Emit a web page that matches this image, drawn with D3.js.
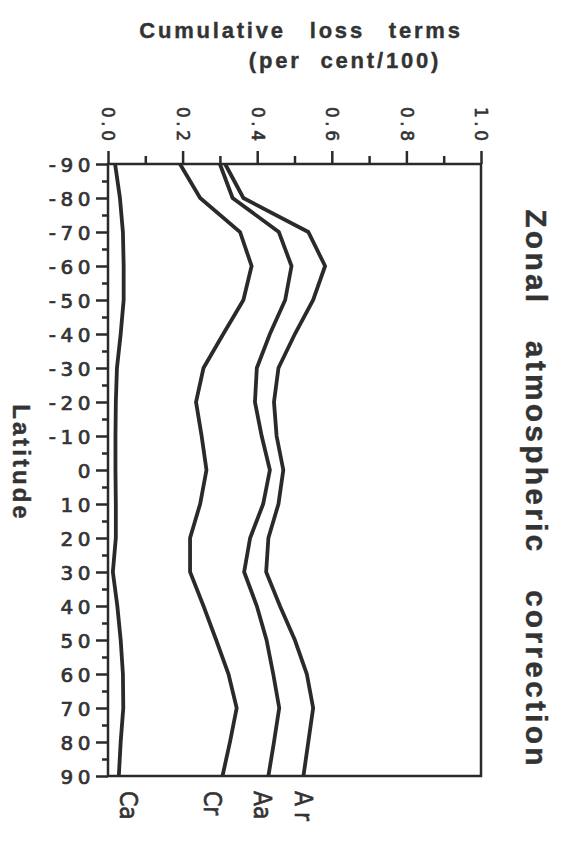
<!DOCTYPE html>
<html>
<head>
<meta charset="utf-8">
<script src="https://cdn.jsdelivr.net/npm/d3@7"></script>
<style>
  html, body { margin: 0; padding: 0; background: #fff; }
  svg { display: block; }
</style>
</head>
<body>
<svg id="chart" width="565" height="843"></svg>
<script>
// Zonal means of the cumulative loss terms, sampled every 10 degrees of latitude
const latitudes = [-90, -80, -70, -60, -50, -40, -30, -20, -10, 0, 10, 20, 30, 40, 50, 60, 70, 80, 90];
const seriesNames = ["Ca", "Cr", "Aa", "Ar"];
const caValues = [0.019, 0.032, 0.040, 0.042, 0.042, 0.034, 0.024, 0.021, 0.020, 0.020, 0.021, 0.021, 0.013, 0.025, 0.034, 0.040, 0.041, 0.034, 0.029];
const crValues = [0.193, 0.247, 0.354, 0.385, 0.363, 0.309, 0.256, 0.236, 0.251, 0.264, 0.247, 0.220, 0.220, 0.256, 0.290, 0.323, 0.345, 0.327, 0.307];
const aaValues = [0.300, 0.334, 0.458, 0.492, 0.475, 0.434, 0.399, 0.394, 0.412, 0.434, 0.416, 0.381, 0.365, 0.399, 0.425, 0.443, 0.459, 0.445, 0.430];
const arValues = [0.314, 0.363, 0.537, 0.582, 0.550, 0.501, 0.457, 0.445, 0.452, 0.470, 0.457, 0.430, 0.424, 0.461, 0.501, 0.533, 0.550, 0.537, 0.524];

const lossTicks = [0, 0.2, 0.4, 0.6, 0.8, 1.0];
const lossTickLabels = ["0.0", "0.2", "0.4", "0.6", "0.8", "1.0"];
const lossMinorTicks = [0.1, 0.3, 0.5, 0.7, 0.9];
const latTicks = [-90, -80, -70, -60, -50, -40, -30, -20, -10, 0, 10, 20, 30, 40, 50, 60, 70, 80, 90];
const latTickLabels = ["-90", "-80", "-70", "-60", "-50", "-40", "-30", "-20", "-10", "0", "10", "20", "30", "40", "50", "60", "70", "80", "90"];
const latMinorTicks = [-85, -75, -65, -55, -45, -35, -25, -15, -5, 5, 15, 25, 35, 45, 55, 65, 75, 85];

const series = [caValues, crValues, aaValues, arValues];

const ink = "#2a2a2a";
const textInk = "#333";
const svg = d3.select("#chart");

const frame = { left: 108, right: 481, top: 164, bottom: 776 };
const x = d3.scaleLinear().domain([0, 1]).range([frame.left, frame.right]);
const y = d3.scaleLinear().domain([-90, 90]).range([frame.top, frame.bottom]);

// Heavier glyphs, like the original typesetting
function inked(sel, w) {
  return sel.attr("stroke", textInk).attr("stroke-width", w).attr("paint-order", "stroke");
}

// Plot frame
svg.append("rect")
  .attr("x", frame.left).attr("y", frame.top)
  .attr("width", frame.right - frame.left).attr("height", frame.bottom - frame.top)
  .attr("fill", "none").attr("stroke", ink).attr("stroke-width", 2.5);

// Top axis: loss fraction, labels turned to read downward
const topMinor = svg.append("g").attr("transform", `translate(0,${frame.top})`)
  .call(d3.axisTop(x).tickValues(lossMinorTicks).tickSize(8).tickFormat(""));
const topMajor = svg.append("g").attr("transform", `translate(0,${frame.top})`)
  .call(d3.axisTop(x).tickValues(lossTicks).tickSize(13).tickFormat((d, i) => lossTickLabels[i]));
[topMinor, topMajor].forEach(g => {
  g.select(".domain").remove();
  g.selectAll(".tick line").attr("stroke", ink).attr("stroke-width", 2.5);
});
inked(topMajor.selectAll(".tick text")
  .attr("transform", "rotate(90)")
  .attr("x", -frame.top + 107)
  .attr("y", 0)
  .attr("dy", "0.36em")
  .attr("text-anchor", "start")
  .attr("fill", textInk)
  .style("font-family", "'DejaVu Sans', sans-serif")
  .style("font-size", "17px")
  .style("letter-spacing", "3.5px"), 0.6);

// Left axis: latitude
const leftMinor = svg.append("g").attr("transform", `translate(${frame.left},0)`)
  .call(d3.axisLeft(y).tickValues(latMinorTicks).tickSize(6).tickFormat(""));
const leftMajor = svg.append("g").attr("transform", `translate(${frame.left},0)`)
  .call(d3.axisLeft(y).tickValues(latTicks).tickSize(12).tickFormat((d, i) => latTickLabels[i]));
[leftMinor, leftMajor].forEach(g => {
  g.select(".domain").remove();
  g.selectAll(".tick line").attr("stroke", ink).attr("stroke-width", 2.5);
});
inked(leftMajor.selectAll(".tick text")
  .attr("x", -13)
  .attr("dy", "0.36em")
  .attr("fill", textInk)
  .style("font-family", "'DejaVu Sans', sans-serif")
  .style("font-size", "20px")
  .style("letter-spacing", "4.5px"), 0.7);

// Curves
const line = d3.line()
  .x(d => x(d.v))
  .y(d => y(d.lat));
series.forEach(vals => {
  svg.append("path")
    .datum(vals.map((v, i) => ({ lat: latitudes[i], v })))
    .attr("d", line)
    .attr("fill", "none")
    .attr("stroke", ink)
    .attr("stroke-width", 3.8)
    .attr("stroke-linejoin", "miter");
});

// Curve names under the frame, near each curve's 90 degree end,
// nudged sideways so the names do not crowd each other
const nameNudge = { Ca: 10, Cr: -10, Aa: -6, Ar: 0 };
series.forEach((vals, i) => {
  const name = seriesNames[i];
  const xe = x(vals[vals.length - 1]) + nameNudge[name];
  inked(svg.append("text")
    .attr("transform", `translate(${xe},${frame.bottom + 15}) rotate(90) scale(1,1.12)`)
    .attr("dy", "0.36em")
    .attr("text-anchor", "start")
    .attr("fill", textInk)
    .style("font-family", "'DejaVu Sans', sans-serif")
    .style("font-size", "22px")
    .style("letter-spacing", name === "Ar" ? "6px" : "0px")
    .text(name), 0.6);
});

// Axis titles
const titleFont = "'Liberation Sans', Arial, sans-serif";
inked(svg.append("text")
  .attr("x", 301).attr("y", 38)
  .attr("text-anchor", "middle")
  .attr("fill", textInk)
  .style("font-family", titleFont)
  .style("font-weight", "bold")
  .style("font-size", "22px")
  .style("letter-spacing", "2.8px")
  .style("word-spacing", "15px")
  .text("Cumulative loss terms"), 0.4);
inked(svg.append("text")
  .attr("x", 345).attr("y", 68)
  .attr("text-anchor", "middle")
  .attr("fill", textInk)
  .style("font-family", titleFont)
  .style("font-weight", "bold")
  .style("font-size", "22px")
  .style("letter-spacing", "2.8px")
  .style("word-spacing", "10px")
  .text("(per cent/100)"), 0.4);

inked(svg.append("text")
  .attr("transform", "translate(22,463) rotate(90)")
  .attr("dy", "0.36em")
  .attr("text-anchor", "middle")
  .attr("fill", textInk)
  .style("font-family", titleFont)
  .style("font-weight", "bold")
  .style("font-size", "24px")
  .style("letter-spacing", "3px")
  .text("Latitude"), 0.4);

inked(svg.append("text")
  .attr("transform", "translate(537,489) rotate(90)")
  .attr("dy", "0.36em")
  .attr("text-anchor", "middle")
  .attr("fill", textInk)
  .style("font-family", titleFont)
  .style("font-weight", "bold")
  .style("font-size", "30px")
  .style("letter-spacing", "3.2px")
  .style("word-spacing", "24px")
  .text("Zonal atmospheric correction"), 0.4);
</script>
</body>
</html>
